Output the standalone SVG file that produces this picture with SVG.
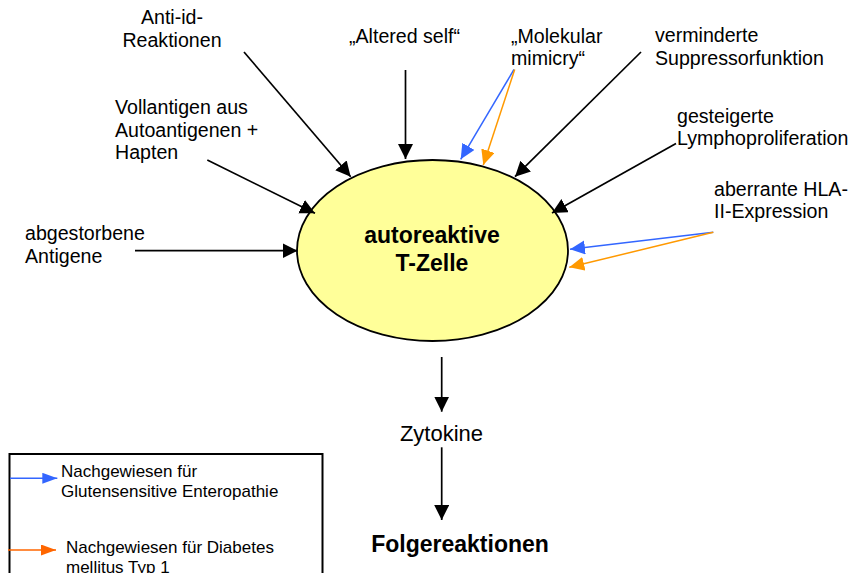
<svg xmlns="http://www.w3.org/2000/svg" width="852" height="573" viewBox="0 0 852 573">
<defs>
<style>
text{font-family:"Liberation Sans",Arial,sans-serif;fill:#000}
.lbl{font-size:19.6px}
.bold{font-size:23px;font-weight:bold;text-anchor:middle}
.leg{font-size:17px}
.blk{stroke:#000;stroke-width:1.7;fill:none}
.blu{stroke:#3366FF;stroke-width:1.5;fill:none}
.org{stroke:#FF9900;stroke-width:1.5;fill:none}
.org2{stroke:#FF6600;stroke-width:1.5;fill:none}
</style>
<marker id="ab" markerUnits="userSpaceOnUse" markerWidth="16" markerHeight="16" refX="15" refY="7.5" orient="auto"><path d="M0,0 L15,7.5 L0,15 z" fill="#000"/></marker>
<marker id="au" markerUnits="userSpaceOnUse" markerWidth="16" markerHeight="16" refX="15" refY="7" orient="auto"><path d="M0,0 L15,7 L0,14 z" fill="#3366FF"/></marker>
<marker id="ao" markerUnits="userSpaceOnUse" markerWidth="16" markerHeight="16" refX="15" refY="7" orient="auto"><path d="M0,0 L15,7 L0,14 z" fill="#FF9900"/></marker>
<marker id="ao2" markerUnits="userSpaceOnUse" markerWidth="16" markerHeight="16" refX="15" refY="5.5" orient="auto"><path d="M0,0 L15,5.5 L0,11 z" fill="#FF6600"/></marker>
<marker id="au2" markerUnits="userSpaceOnUse" markerWidth="16" markerHeight="16" refX="15" refY="5.5" orient="auto"><path d="M0,0 L15,5.5 L0,11 z" fill="#3366FF"/></marker>
</defs>
<rect width="852" height="573" fill="#fff"/>

<g id="tcell">
<ellipse cx="432.5" cy="250.5" rx="135.5" ry="90.5" fill="#FFFF99" stroke="#000" stroke-width="1.8"/>
<text class="bold" x="432" y="243">autoreaktive</text>
<text class="bold" x="432" y="270.5">T-Zelle</text>
</g>

<g id="antiid"><text class="lbl" text-anchor="middle" x="172" y="24">Anti-id-</text><text class="lbl" text-anchor="middle" x="172" y="47">Reaktionen</text></g>
<g id="altered"><text class="lbl" x="349" y="43">„Altered self“</text></g>
<g id="mimicry"><text class="lbl" x="511" y="42.5">„Molekular</text><text class="lbl" x="511" y="64.5">mimicry“</text></g>
<g id="suppressor"><text class="lbl" x="655" y="42">verminderte</text><text class="lbl" x="655" y="64.5">Suppressorfunktion</text></g>
<g id="lympho"><text class="lbl" x="677" y="122.5">gesteigerte</text><text class="lbl" x="677" y="144.5">Lymphoproliferation</text></g>
<g id="hla"><text class="lbl" x="714" y="196">aberrante HLA-</text><text class="lbl" x="714" y="217.5">II-Expression</text></g>
<g id="vollantigen"><text class="lbl" x="115" y="113.5">Vollantigen aus</text><text class="lbl" x="115" y="136.5">Autoantigenen +</text><text class="lbl" x="115" y="159">Hapten</text></g>
<g id="abgestorbene"><text class="lbl" x="25" y="240">abgestorbene</text><text class="lbl" x="25" y="263">Antigene</text></g>
<g id="zytokine"><text x="441.5" y="441" font-size="22" text-anchor="middle">Zytokine</text></g>
<g id="folge"><text class="bold" x="460" y="552">Folgereaktionen</text></g>

<g id="connectors">
<line class="blk" x1="244" y1="52" x2="350.7" y2="176.7" marker-end="url(#ab)"/>
<line class="blk" x1="405.5" y1="70" x2="405.5" y2="159" marker-end="url(#ab)"/>
<line class="blu" x1="514" y1="69.5" x2="460.7" y2="159.3" marker-end="url(#au)"/>
<line class="org" x1="514.7" y1="69.5" x2="483.3" y2="165" marker-end="url(#ao)"/>
<line class="blk" x1="641" y1="52" x2="515" y2="176.7" marker-end="url(#ab)"/>
<line class="blk" x1="676" y1="143.5" x2="552" y2="213" marker-end="url(#ab)"/>
<line class="blu" x1="713.3" y1="232.3" x2="570" y2="249.3" marker-end="url(#au)"/>
<line class="org" x1="713.3" y1="232.3" x2="569.3" y2="267.3" marker-end="url(#ao)"/>
<line class="blk" x1="207.3" y1="160" x2="315" y2="213.3" marker-end="url(#ab)"/>
<line class="blk" x1="135" y1="250.7" x2="297.5" y2="250.7" marker-end="url(#ab)"/>
<line class="blk" x1="441.7" y1="357" x2="441.7" y2="411.7" marker-end="url(#ab)"/>
<line class="blk" x1="441.7" y1="447.3" x2="441.7" y2="520" marker-end="url(#ab)"/>
</g>

<g id="legend">
<rect x="9.5" y="454" width="313" height="140" fill="none" stroke="#000" stroke-width="2"/>
<line class="blu" stroke-width="1" x1="10" y1="478.3" x2="57.3" y2="478.3" marker-end="url(#au2)"/>
<text class="leg" x="61" y="477">Nachgewiesen für</text>
<text class="leg" x="61" y="497">Glutensensitive Enteropathie</text>
<line class="org2" x1="8" y1="550" x2="56" y2="550" marker-end="url(#ao2)"/>
<text class="leg" x="66" y="553">Nachgewiesen für Diabetes</text>
<text class="leg" x="66" y="573">mellitus Typ 1</text>
</g>
</svg>
